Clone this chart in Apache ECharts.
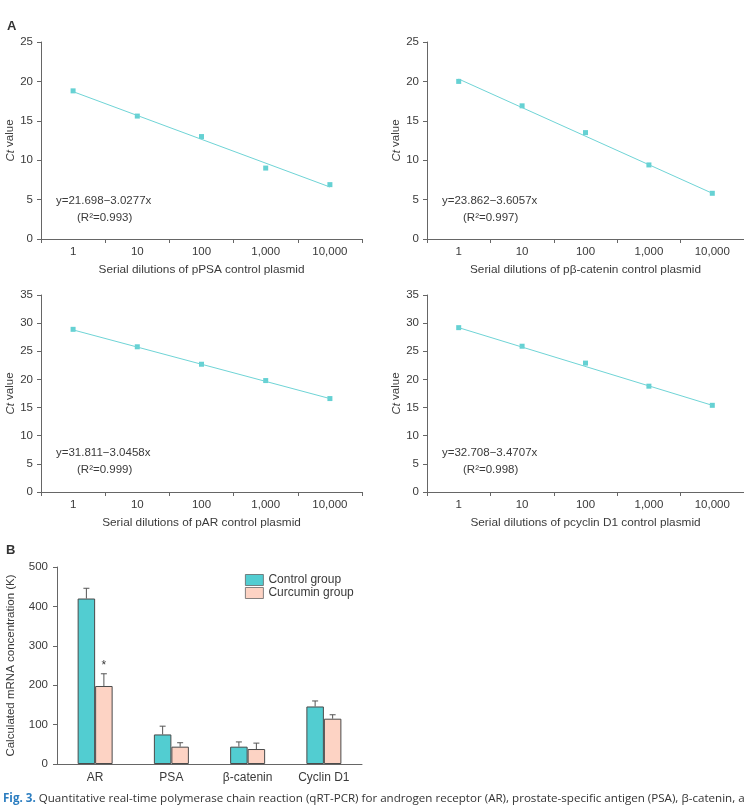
<!DOCTYPE html>
<html>
<head>
<meta charset="utf-8">
<script src="https://cdn.jsdelivr.net/npm/echarts@6/dist/echarts.min.js"></script>
<style>
  html, body { margin: 0; padding: 0; background: #fff; }
  #main { width: 744px; height: 810px; }
</style>
</head>
<body>
<div id="main"></div>
<script>
// dilution categories (x axis of the four standard curves)
var dilutions = ['1', '10', '100', '1,000', '10,000'];

// Ct values
var ctPSA = [18.8, 15.6, 13.0, 9.0, 6.9];
var ctCatenin = [20.0, 16.9, 13.5, 9.4, 5.8];
var ctAR = [28.9, 25.8, 22.7, 19.8, 16.6];
var ctCyclin = [29.2, 25.9, 22.9, 18.8, 15.4];

// ends of the fitted lines (first and last dilution)
var fitPSA = [18.7, 6.6];
var fitCatenin = [20.3, 5.8];
var fitAR = [28.8, 16.6];
var fitCyclin = [29.2, 15.4];

var panelNames = [
    'Serial dilutions of pPSA control plasmid',
    'Serial dilutions of p\u03b2-catenin control plasmid',
    'Serial dilutions of pAR control plasmid',
    'Serial dilutions of pcyclin D1 control plasmid'
];
var equations = ['y=21.698\u22123.0277x', 'y=23.862\u22123.6057x', 'y=31.811\u22123.0458x', 'y=32.708\u22123.4707x'];
var rSquared = ['0.993', '0.997', '0.999', '0.998'];

// panel B
var genes = ['AR', 'PSA', '\u03b2-catenin', 'Cyclin D1'];
var controlGroup = [420, 75, 44, 146];
var controlErr = [26, 21, 12, 14];
var curcuminGroup = [198, 44, 38, 115];
var curcuminErr = [31, 10, 15, 10];
var signif = ['*', '', '', ''];

var FONT = '"Liberation Sans", Arial, sans-serif';
var TXT = '#3a3a3a';
var AX = '#666';
var TEAL = '#52cdd1';
var PEACH = '#fdd3c4';

var chart = echarts.init(document.getElementById('main'));

var grids = [
    {left: 41, top: 42, width: 321, height: 197},
    {left: 427, top: 42, width: 321, height: 197},
    {left: 41, top: 295, width: 321, height: 197},
    {left: 427, top: 295, width: 321, height: 197},
    {left: 57, top: 567, width: 305, height: 197}
];

var xAxes = [], yAxes = [], series = [], graphics = [];
var cts = [ctPSA, ctCatenin, ctAR, ctCyclin];
var fits = [fitPSA, fitCatenin, fitAR, fitCyclin];
var yMax = [25, 25, 35, 35];

for (var i = 0; i < 4; i++) {
    xAxes.push({
        type: 'category', gridIndex: i, data: dilutions,
        name: panelNames[i], nameLocation: 'middle', nameGap: 25,
        nameTextStyle: {color: TXT, fontSize: 11.8, fontFamily: FONT},
        axisLine: {lineStyle: {color: AX}},
        axisTick: {show: true, interval: 0, length: 4, inside: false, lineStyle: {color: AX}},
        axisLabel: {color: TXT, fontSize: 11.5, fontFamily: FONT, margin: 7, interval: 0},
        splitLine: {show: false}
    });
    yAxes.push({
        type: 'value', gridIndex: i, min: 0, max: yMax[i], interval: 5,
        name: '{i|Ct} value', nameLocation: 'middle', nameGap: 24,
        nameTextStyle: {color: TXT, fontSize: 11.5, fontFamily: FONT,
            rich: {i: {fontStyle: 'italic', fontSize: 11.5, fontFamily: FONT, color: TXT}}},
        axisLine: {show: true, lineStyle: {color: AX}},
        axisTick: {show: true, length: 4, lineStyle: {color: AX}},
        axisLabel: {color: TXT, fontSize: 11.5, fontFamily: FONT, margin: 8},
        splitLine: {show: false}
    });
    series.push({
        type: 'line', xAxisIndex: i, yAxisIndex: i,
        data: [fits[i][0], null, null, null, fits[i][1]],
        connectNulls: true, symbol: 'none', silent: true,
        lineStyle: {color: '#6fd4d6', width: 1}
    });
    series.push({
        type: 'scatter', xAxisIndex: i, yAxisIndex: i,
        data: cts[i], symbol: 'rect', symbolSize: 5,
        itemStyle: {color: '#3fc6c8'}
    });
    var g = grids[i];
    var eqTop = g.top + (i < 2 ? 153 : 152);
    graphics.push({
        type: 'text', left: g.left + 15, top: eqTop,
        style: {text: equations[i], fill: TXT, font: '11.5px ' + FONT}
    });
    graphics.push({
        type: 'text', left: g.left + 36, top: eqTop + 17,
        style: {text: '(R\u00b2=' + rSquared[i] + ')', fill: TXT, font: '11.5px ' + FONT}
    });
}

// panel B axes
xAxes.push({
    type: 'category', gridIndex: 4, data: genes,
    axisLine: {lineStyle: {color: AX}},
    axisTick: {show: false},
    axisLabel: {color: TXT, fontSize: 12, fontFamily: FONT, margin: 8},
    splitLine: {show: false}
});
yAxes.push({
    type: 'value', gridIndex: 4, min: 0, max: 500, interval: 100,
    name: 'Calculated mRNA concentration (K)', nameLocation: 'middle', nameGap: 40,
    nameTextStyle: {color: TXT, fontSize: 11.5, fontFamily: FONT},
    axisLine: {show: true, lineStyle: {color: AX}},
    axisTick: {show: true, length: 4, lineStyle: {color: AX}},
    axisLabel: {color: TXT, fontSize: 11.5, fontFamily: FONT, margin: 9},
    splitLine: {show: false}
});

var BW = 17.5;
series.push({
    name: 'Control group', type: 'bar', xAxisIndex: 4, yAxisIndex: 4,
    data: controlGroup, barWidth: BW, barGap: '0%',
    itemStyle: {color: TEAL, borderColor: '#4a4a4a', borderWidth: 1}
});
series.push({
    name: 'Curcumin group', type: 'bar', xAxisIndex: 4, yAxisIndex: 4,
    data: curcuminGroup, barWidth: BW, barGap: '0%',
    itemStyle: {color: PEACH, borderColor: '#4a4a4a', borderWidth: 1}
});

// error bars (upper whisker only) + significance marks
var errData = [];
for (var k = 0; k < genes.length; k++) {
    errData.push([k, controlGroup[k], controlErr[k], -1, '']);
    errData.push([k, curcuminGroup[k], curcuminErr[k], 1, signif[k]]);
}
series.push({
    type: 'custom', xAxisIndex: 4, yAxisIndex: 4, silent: true, z: 5,
    data: errData,
    renderItem: function (params, api) {
        var c = api.value(0), v = api.value(1), e = api.value(2), side = api.value(3);
        var base = api.coord([c, v]);
        var top = api.coord([c, v + e]);
        var x = base[0] + side * BW / 2;
        var children = [
            {type: 'line', shape: {x1: x, y1: base[1], x2: x, y2: top[1]}, style: {stroke: '#555', lineWidth: 1}},
            {type: 'line', shape: {x1: x - 3, y1: top[1], x2: x + 3, y2: top[1]}, style: {stroke: '#555', lineWidth: 1}}
        ];
        var s = errData[params.dataIndex][4];
        if (s) {
            children.push({type: 'text', x: x, y: top[1] - 8,
                style: {text: s, fill: TXT, font: '12px ' + FONT, align: 'center', verticalAlign: 'middle'}});
        }
        return {type: 'group', children: children};
    }
});

graphics.push({type: 'text', left: 7, top: 20, style: {text: 'A', fill: '#333', font: 'bold 13px ' + FONT}});
graphics.push({type: 'text', left: 6, top: 544, style: {text: 'B', fill: '#333', font: 'bold 13px ' + FONT}});
graphics.push({
    type: 'text', left: 3, top: 793,
    style: {
        text: '{b|Fig. 3.} Quantitative real-time polymerase chain reaction (qRT-PCR) for androgen receptor (AR), prostate-specific antigen (PSA), \u03b2-catenin, and cyclin D1',
        fill: '#333', font: '11.6px "Open Sans", sans-serif',
        rich: {b: {fill: '#2b7dc0', font: 'bold 11.6px "Open Sans", sans-serif'}}
    }
});

chart.setOption({
    animation: false,
    backgroundColor: '#fff',
    textStyle: {fontFamily: FONT},
    grid: grids,
    legend: {
        data: ['Control group', 'Curcumin group'],
        orient: 'vertical', left: 240, top: 569, itemWidth: 18, itemHeight: 11, itemGap: 1,
        icon: 'rect',
        itemStyle: {borderWidth: 0.8, borderColor: '#666'},
        textStyle: {color: TXT, fontSize: 12, fontFamily: FONT}
    },
    xAxis: xAxes,
    yAxis: yAxes,
    series: series,
    graphic: graphics
});
</script>
</body>
</html>
